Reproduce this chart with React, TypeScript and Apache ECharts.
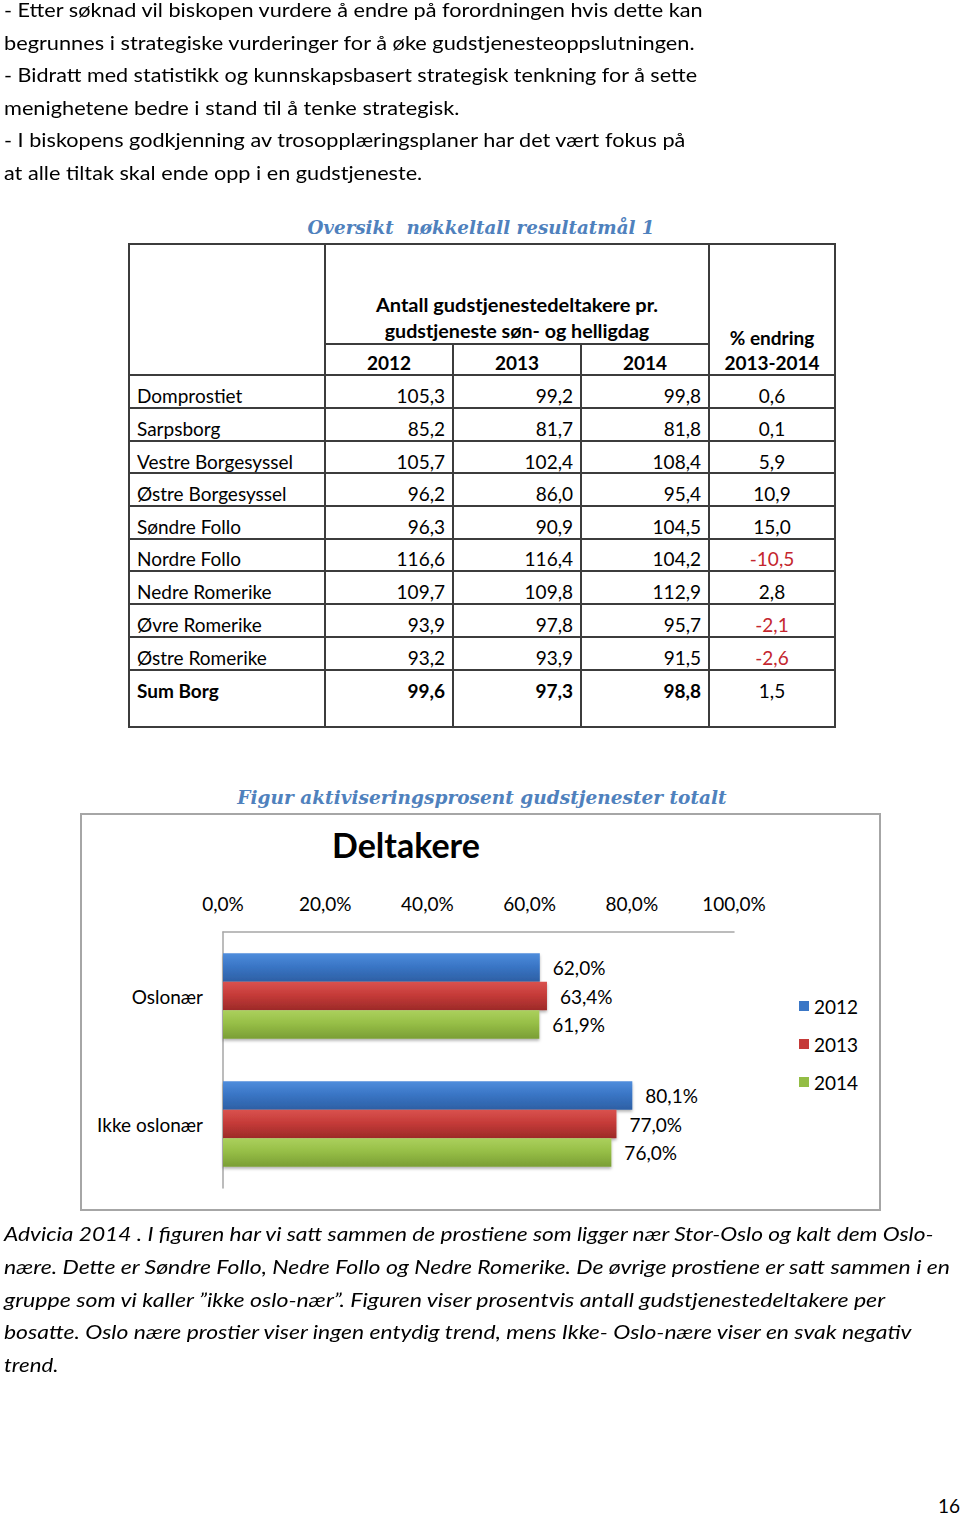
import React, { useEffect, useLayoutEffect, useRef, useState } from "react";
import * as echarts from "echarts";

// ---------- data ----------
const bodyLines = [
  "- Etter søknad vil biskopen vurdere å endre på forordningen hvis dette kan",
  "begrunnes i strategiske vurderinger for å øke gudstjenesteoppslutningen.",
  "- Bidratt med statistikk og kunnskapsbasert strategisk tenkning for å sette",
  "menighetene bedre i stand til å tenke strategisk.",
  "- I biskopens godkjenning av trosopplæringsplaner har det vært fokus på",
  "at alle tiltak skal ende opp i en gudstjeneste.",
];
const captionLines = [
  "Advicia 2014 . I figuren har vi satt sammen de prostiene som ligger nær Stor-Oslo og kalt dem Oslo-",
  "nære. Dette er Søndre Follo, Nedre Follo og Nedre Romerike. De øvrige prostiene er satt sammen i en",
  "gruppe som vi kaller ”ikke oslo-nær”. Figuren viser prosentvis antall gudstjenestedeltakere per",
  "bosatte. Oslo nære prostier viser ingen entydig trend, mens Ikke- Oslo-nære viser en svak negativ",
  "trend.",
];
const tableTitle = "Oversikt  nøkkeltall resultatmål 1";
const figureTitle = "Figur aktiviseringsprosent gudstjenester totalt";
const headerLine1 = "Antall gudstjenestedeltakere pr.";
const headerLine2 = "gudstjeneste søn- og helligdag";
const tableYears = ["2012", "2013", "2014"];
const changeHeader1 = "% endring";
const changeHeader2 = "2013-2014";
const districts = [
  "Domprostiet", "Sarpsborg", "Vestre Borgesyssel", "Østre Borgesyssel", "Søndre Follo",
  "Nordre Follo", "Nedre Romerike", "Øvre Romerike", "Østre Romerike", "Sum Borg",
];
const val2012 = [105.3, 85.2, 105.7, 96.2, 96.3, 116.6, 109.7, 93.9, 93.2, 99.6];
const val2013 = [99.2, 81.7, 102.4, 86.0, 90.9, 116.4, 109.8, 97.8, 93.9, 97.3];
const val2014 = [99.8, 81.8, 108.4, 95.4, 104.5, 104.2, 112.9, 95.7, 91.5, 98.8];
const changePct = [0.6, 0.1, 5.9, 10.9, 15.0, -10.5, 2.8, -2.1, -2.6, 1.5];

const chartTitle = "Deltakere";
const chartYears = ["2012", "2013", "2014"];
const regions = ["Oslonær", "Ikke oslonær"];
const pct2012 = [62.0, 80.1];
const pct2013 = [63.4, 77.0];
const pct2014 = [61.9, 76.0];
const pageNumber = "16";

// ---------- layout ----------
const FONT = "Lato, 'Open Sans', sans-serif";
const SERIF = "'DejaVu Serif', 'Liberation Serif', serif";
const colX = [129, 325, 453, 581, 709, 835];
const rowY = [375, 408, 441, 473, 506, 538.5, 571, 604, 637, 670, 727];
const tableTop = 244;
const headerMid = 344;
const LINE = "#3c3c3c";
const fmt = (v: number) => v.toFixed(1).replace(".", ",");

type TProps = {
  x: number; y: number; text: string; size?: number; weight?: number; italic?: boolean;
  color?: string; align?: "left" | "center" | "right"; family?: string; fit?: number;
};
function T({ x, y, text, size = 19, weight = 400, italic = false, color = "#000", align = "left", family = FONT, fit }: TProps) {
  const ref = useRef<HTMLDivElement>(null);
  const [s, setS] = useState(1);
  useLayoutEffect(() => {
    if (!fit || !ref.current) return;
    const measure = () => {
      const el = ref.current;
      if (!el) return;
      const w = el.offsetWidth;
      if (w > 0) setS(fit / w);
    };
    measure();
    const f = (document as any).fonts;
    if (f && f.ready) f.ready.then(measure);
  }, [fit, text]);
  const lh = Math.round(size * 1.3);
  const tx = align === "center" ? "translateX(-50%) " : align === "right" ? "translateX(-100%) " : "";
  return (
    <div
      ref={ref}
      style={{
        position: "absolute", left: x, top: y - lh / 2, height: lh, lineHeight: lh + "px",
        fontSize: size, fontFamily: family, fontWeight: weight, fontStyle: italic ? "italic" : "normal",
        color, whiteSpace: "pre", transformOrigin: align, transform: tx + `scaleX(${s})`,
      }}
    >
      {text}
    </div>
  );
}

function HLine({ x1, x2, y }: { x1: number; x2: number; y: number }) {
  return <div style={{ position: "absolute", left: x1 - 1, top: y - 1, width: x2 - x1 + 2, height: 2, background: LINE }} />;
}
function VLine({ x, y1, y2 }: { x: number; y1: number; y2: number }) {
  return <div style={{ position: "absolute", left: x - 1, top: y1 - 1, width: 2, height: y2 - y1 + 2, background: LINE }} />;
}

function Chart() {
  const ref = useRef<HTMLDivElement>(null);
  useEffect(() => {
    if (!ref.current) return;
    const chart = echarts.init(ref.current, undefined, { renderer: "svg" });
    const grad = (a: string, b: string, c: string) =>
      new echarts.graphic.LinearGradient(0, 0, 0, 1, [
        { offset: 0, color: a },
        { offset: 0.45, color: b },
        { offset: 1, color: c },
      ]);
    const solid = ["#3b77c6", "#c53a38", "#93bd45"];
    const fills = [
      grad("#4f8ddc", "#3a76c6", "#2d5fa4"),
      grad("#d9524f", "#c63b39", "#9c2a28"),
      grad("#abd05d", "#97bf47", "#7a9e35"),
    ];
    const seriesData = [pct2012, pct2013, pct2014];
    chart.setOption({
      animation: false,
      textStyle: { fontFamily: FONT },
      title: {
        text: chartTitle, left: 252, top: 14, padding: 0,
        textStyle: { fontSize: 34, fontWeight: "bold", color: "#000", fontFamily: FONT },
      },
      legend: {
        orient: "vertical", left: 719, top: 183, padding: 0, itemWidth: 10, itemHeight: 10, itemGap: 18,
        icon: "rect",
        textStyle: { fontSize: 19, color: "#000", lineHeight: 20, fontFamily: FONT },
        data: chartYears.map((y, i) => ({ name: y, itemStyle: { color: solid[i] } })),
      },
      grid: { left: 143, top: 119, width: 511, height: 256, containLabel: false, outerBoundsMode: "none" },
      xAxis: {
        type: "value", position: "top", min: 0, max: 100, interval: 20,
        axisLine: { show: true, lineStyle: { color: "#a6a6a6", width: 1.5 } },
        axisTick: { show: false }, splitLine: { show: false },
        axisLabel: { fontSize: 19, color: "#000", margin: 19, formatter: (v: number) => fmt(v) + "%" },
      },
      yAxis: {
        type: "category", inverse: true, data: regions,
        axisLine: { show: true, lineStyle: { color: "#a6a6a6", width: 1.5 } },
        axisTick: { show: false },
        axisLabel: { fontSize: 19, color: "#000", margin: 20 },
      },
      series: chartYears.map((y, i) => ({
        type: "bar", name: y, data: seriesData[i], barWidth: 28.5, barGap: "0%",
        itemStyle: { color: fills[i], shadowBlur: 3, shadowOffsetY: 2, shadowColor: "rgba(0,0,0,0.3)" },
        label: {
          show: true, position: "right", distance: 13, fontSize: 19, color: "#000",
          formatter: (p: any) => fmt(p.value) + "%",
        },
      })),
      graphic: [
        {
          type: "rect", silent: true,
          shape: { x: 1, y: 1, width: 799, height: 396 },
          style: { fill: "none", stroke: "#a6a6a6", lineWidth: 2 },
        },
      ],
    });
    return () => chart.dispose();
  }, []);
  return <div ref={ref} style={{ position: "absolute", left: 80, top: 813, width: 801, height: 398 }} />;
}

export default function App() {
  const bodyY = [10, 43, 75, 108, 140, 173];
  const bodyW = [699, 691, 693, 455, 681, 418];
  const capY = [1234, 1267, 1300, 1332, 1365];
  const capW = [930, 946, 881, 908, 54];
  const colCenters = [1, 2, 3].map((i) => (colX[i] + colX[i + 1]) / 2);
  const chgCenter = (colX[4] + colX[5]) / 2;
  const groupCenter = (colX[1] + colX[4]) / 2;

  return (
    <div style={{ position: "absolute", left: 0, top: 0, width: 960, height: 1515, background: "#fff", overflow: "hidden" }}>
      {bodyLines.map((t, i) => (
        <T key={"b" + i} x={4} y={bodyY[i]} text={t} size={18.5} fit={bodyW[i]} />
      ))}

      <T x={481} y={227} text={tableTitle} size={19} weight={700} italic color="#4f81bd" family={SERIF} align="center" fit={347} />

      {/* table grid */}
      <HLine x1={colX[0]} x2={colX[5]} y={tableTop} />
      <HLine x1={colX[1]} x2={colX[4]} y={headerMid} />
      {rowY.map((y, i) => (
        <HLine key={"h" + i} x1={colX[0]} x2={colX[5]} y={y} />
      ))}
      {colX.map((x, i) => (
        <VLine key={"v" + i} x={x} y1={i === 2 || i === 3 ? headerMid : tableTop} y2={rowY[rowY.length - 1]} />
      ))}

      {/* header */}
      <T x={groupCenter} y={304} text={headerLine1} weight={700} align="center" fit={282} />
      <T x={groupCenter} y={330} text={headerLine2} weight={700} align="center" fit={265} />
      {tableYears.map((y, i) => (
        <T key={"y" + i} x={colCenters[i]} y={362} text={y} weight={700} align="center" />
      ))}
      <T x={chgCenter} y={337} text={changeHeader1} weight={700} align="center" />
      <T x={chgCenter} y={362} text={changeHeader2} weight={700} align="center" />

      {/* rows */}
      {districts.map((d, i) => {
        const cy = rowY[i] + 20;
        const bold = i === districts.length - 1 ? 700 : 400;
        return (
          <React.Fragment key={"r" + i}>
            <T x={137} y={cy} text={d} weight={bold} />
            <T x={colX[2] - 8} y={cy} text={fmt(val2012[i])} weight={bold} align="right" />
            <T x={colX[3] - 8} y={cy} text={fmt(val2013[i])} weight={bold} align="right" />
            <T x={colX[4] - 8} y={cy} text={fmt(val2014[i])} weight={bold} align="right" />
            <T x={chgCenter} y={cy} text={fmt(changePct[i])} align="center" color={changePct[i] < 0 ? "#c4262e" : "#000"} />
          </React.Fragment>
        );
      })}

      <T x={482} y={797} text={figureTitle} size={19} weight={700} italic color="#4f81bd" family={SERIF} align="center" fit={489} />

      <Chart />

      {captionLines.map((t, i) => (
        <T key={"c" + i} x={4} y={capY[i]} text={t} size={18.5} italic fit={capW[i]} />
      ))}

      <T x={960} y={1505} text={pageNumber} size={19} align="right" />
    </div>
  );
}
